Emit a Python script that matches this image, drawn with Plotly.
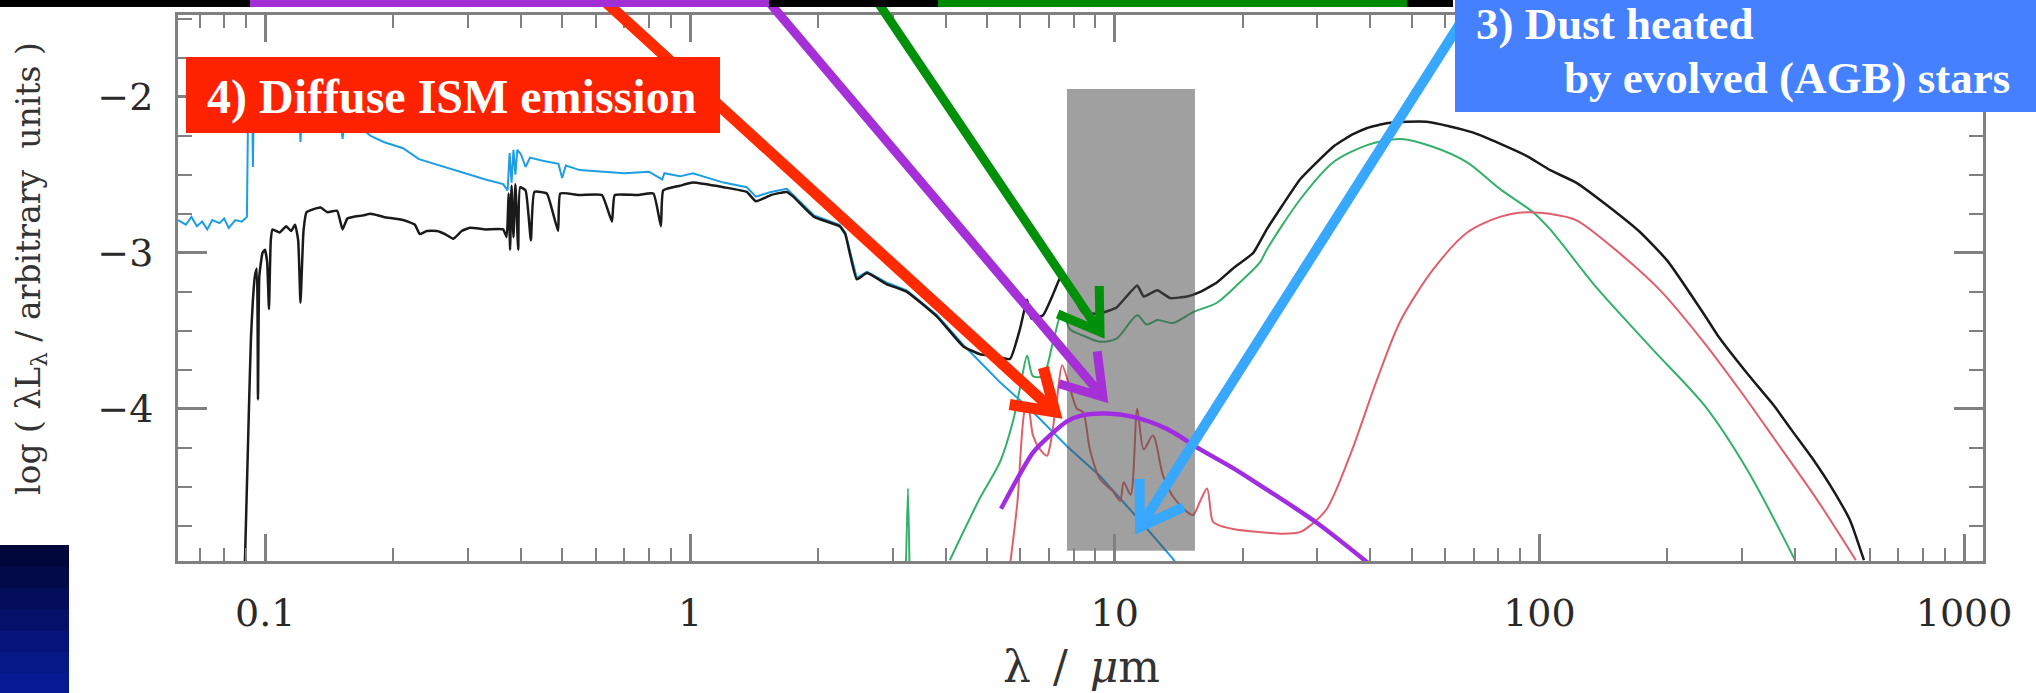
import math
import plotly.graph_objects as go

# ---------------- data ----------------
# total SED (black)
black_x = [0.0895, 0.0915, 0.0925, 0.0935, 0.0945, 0.0955, 0.0961, 0.0968, 0.0985, 0.0998,
           0.101, 0.102, 0.103, 0.104, 0.108, 0.112, 0.115, 0.1175, 0.1195, 0.121, 0.123,
           0.125, 0.130, 0.135, 0.140, 0.1476, 0.152, 0.156, 0.161, 0.170, 0.177, 0.190,
           0.211, 0.225, 0.231, 0.240, 0.2535, 0.265, 0.277, 0.290, 0.303, 0.330, 0.363,
           0.370, 0.374, 0.377, 0.380, 0.384, 0.388, 0.394, 0.398, 0.410, 0.422, 0.430,
           0.460, 0.489, 0.495, 0.550, 0.620, 0.655, 0.665, 0.750, 0.820, 0.854, 0.865,
           0.947, 1.016, 1.20, 1.36, 1.43, 1.55, 1.69, 1.75, 1.96, 2.25, 2.32, 2.47, 2.61,
           2.90, 3.24, 3.82, 4.40, 4.82, 5.17, 5.67, 5.98, 6.22, 6.36, 6.78, 7.20, 7.50,
           7.80, 8.40, 9.20, 10.1, 11.3, 11.7, 12.6, 13.5, 14.8, 15.9, 17.4, 19.0, 21.2,
           22.8, 24.9, 27.3, 29.9, 32.7, 35.8, 39.3, 43.7, 48.8, 54.2, 61.6, 69.9, 80.7,
           93.5, 106, 122, 145, 173, 200, 245, 263, 310, 357, 391, 440, 494, 540, 581]
black_y = [-5.0, -4.0, -3.55, -3.30, -3.15, -3.10, -3.94, -3.15, -3.00, -2.98,
           -3.06, -3.36, -2.92, -2.85, -2.87, -2.83, -2.86, -2.82, -2.92, -3.32, -2.86,
           -2.74, -2.72, -2.71, -2.74, -2.73, -2.85, -2.78, -2.77, -2.76, -2.75, -2.77,
           -2.79, -2.82, -2.88, -2.86, -2.86, -2.88, -2.91, -2.86, -2.84, -2.85, -2.85,
           -2.90, -2.62, -2.98, -2.57, -2.90, -2.56, -2.98, -2.58, -2.60, -2.92, -2.61,
           -2.62, -2.86, -2.62, -2.63, -2.63, -2.80, -2.63, -2.63, -2.62, -2.83, -2.60,
           -2.57, -2.55, -2.58, -2.61, -2.67, -2.63, -2.61, -2.64, -2.77, -2.83, -2.88, -3.17, -3.13,
           -3.20, -3.25, -3.41, -3.60, -3.65, -3.66, -3.68, -3.49, -3.30, -3.42, -3.40, -3.25, -3.14,
           -3.22, -3.38, -3.39, -3.35, -3.21, -3.28, -3.24, -3.29, -3.28, -3.25, -3.19, -3.10, -3.00,
           -2.85, -2.69, -2.53, -2.42, -2.32, -2.25, -2.20, -2.17, -2.16, -2.16, -2.19, -2.23, -2.30,
           -2.38, -2.47, -2.55, -2.70, -2.87, -3.05, -3.40, -3.53, -3.78, -3.98, -4.13, -4.32, -4.53, -4.72, -4.97]

# unextinguished stars (light blue)
blue_x = [0.0623, 0.065, 0.067, 0.069, 0.071, 0.073, 0.075, 0.078, 0.080, 0.082, 0.085, 0.088,
          0.0905, 0.0912, 0.093, 0.0935, 0.094, 0.100, 0.110, 0.120, 0.121, 0.122, 0.135, 0.150,
          0.152, 0.154, 0.165, 0.177, 0.190, 0.211, 0.230, 0.250, 0.277, 0.300, 0.330, 0.363,
          0.372, 0.376, 0.380, 0.384, 0.388, 0.392, 0.400, 0.410, 0.420, 0.450, 0.490, 0.500,
          0.510, 0.550, 0.700, 0.800, 0.860, 0.870, 0.947, 1.016, 1.20, 1.36, 1.43, 1.55, 1.69,
          1.75, 1.96, 2.25, 2.32, 2.47, 2.61, 2.90, 3.24, 3.82, 4.40, 4.82, 5.37, 6.42, 7.72,
          9.23, 11.5, 13.7, 14.5]
blue_y = [-2.79, -2.82, -2.77, -2.83, -2.80, -2.85, -2.79, -2.81, -2.78, -2.84, -2.79, -2.80,
          -2.77, -1.95, -1.92, -2.45, -1.95, -1.98, -2.00, -2.03, -2.29, -2.04, -2.08, -2.12,
          -2.27, -2.13, -2.18, -2.25, -2.29, -2.33, -2.40, -2.43, -2.47, -2.50, -2.53, -2.56,
          -2.60, -2.36, -2.55, -2.34, -2.50, -2.34, -2.37, -2.45, -2.39, -2.41, -2.43, -2.52,
          -2.44, -2.47, -2.49, -2.48, -2.53, -2.49, -2.51, -2.49, -2.55, -2.58, -2.64, -2.61, -2.59,
          -2.63, -2.76, -2.82, -2.87, -3.16, -3.12, -3.19, -3.24, -3.40, -3.59, -3.70, -3.83, -4.02, -4.24,
          -4.43, -4.72, -4.96, -5.05]

# molecular clouds (green)
green_x = [3.22, 3.26, 3.29, None, 4.09, 4.82, 5.37, 5.76, 6.00, 6.22, 6.42, 6.78, 7.16, 7.52,
           7.85, 8.42, 9.23, 10.1, 11.3, 11.9, 12.6, 13.7, 15.3, 17.4, 19.7, 22.0, 22.8, 27.3,
           32.7, 39.3, 47.0, 56.1, 67.6, 80.7, 96.6, 106, 137, 185, 245, 310, 400]
green_y = [-5.1, -4.51, -5.1, None, -4.97, -4.57, -4.34, -4.08, -3.85, -3.66, -3.79, -3.79, -3.57, -3.38,
           -3.49, -3.53, -3.57, -3.55, -3.40, -3.46, -3.43, -3.45, -3.38, -3.32, -3.19, -3.06, -2.98, -2.66,
           -2.42, -2.31, -2.27, -2.32, -2.42, -2.59, -2.74, -2.85, -3.23, -3.62, -3.98, -4.40, -4.97]

# diffuse cirrus (red)
red_x = [5.67, 5.90, 6.15, 6.25, 6.42, 6.67, 6.93, 7.04, 7.31, 7.52, 7.85, 8.15, 8.42, 8.74,
         9.23, 9.91, 10.3, 10.5, 10.9, 11.3, 11.7, 12.3, 13.0, 13.7, 14.8, 15.3, 15.9, 16.5,
         17.0, 17.4, 19.0, 22.0, 24.9, 27.3, 28.8, 31.6, 35.8, 41.5, 47.0, 56.1, 67.6, 80.7,
         93.5, 106, 122, 154, 194, 245, 300, 357, 450, 556]
red_y = [-5.0, -4.60, -4.00, -3.98, -4.17, -4.26, -4.30, -4.24, -3.94, -3.72, -3.87, -4.00, -4.02, -4.26,
         -4.45, -4.53, -4.59, -4.47, -4.55, -4.00, -4.26, -4.17, -4.43, -4.56, -4.66, -4.68, -4.59, -4.51,
         -4.72, -4.74, -4.77, -4.79, -4.80, -4.79, -4.75, -4.64, -4.30, -3.81, -3.44, -3.11, -2.87, -2.77,
         -2.74, -2.75, -2.79, -3.00, -3.25, -3.58, -3.90, -4.19, -4.58, -4.97]

# dust around AGB stars (purple)
purple_x = [5.40, 5.89, 6.42, 7.04, 7.72, 8.42, 9.59, 11.0, 13.3, 15.9, 19.0, 22.0, 29.9, 40.0]
purple_y = [-4.64, -4.45, -4.28, -4.17, -4.08, -4.04, -4.03, -4.05, -4.13, -4.26, -4.38, -4.49, -4.73, -5.0]

# highlighted band
BAND_X = [7.72, 15.45]
BAND_Y = [-4.91, -1.95]

X_TICKS = [0.1, 1, 10, 100, 1000]
X_TICKTEXT = ["0.1", "1", "10", "100", "1000"]
Y_TICKS = [-4, -3, -2]

X_RANGE_LOG = [-1.2056, 3.0445]
Y_RANGE = [-4.975, -1.476]

# ---------------- layout geometry (pixels) ----------------
W, H = 2036, 693
L, R, T, B = 178, 1983, 15, 561


def X(p):
    return (p - L) / (R - L)


def Y(p):
    return (B - p) / (B - T)


def rect(x0, y0, x1, y1, color):
    return dict(type="rect", xref="paper", yref="paper", x0=X(x0), x1=X(x1), y0=Y(y1), y1=Y(y0),
                fillcolor=color, line=dict(width=0), layer="above")


def arrow(x0, y0, xt, yt, color, width, head=46, ang=33):
    dx, dy = x0 - xt, y0 - yt
    n = math.hypot(dx, dy)
    ux, uy = dx / n, dy / n
    arms = []
    for s in (1, -1):
        a = math.radians(ang * s)
        ax = ux * math.cos(a) - uy * math.sin(a)
        ay = ux * math.sin(a) + uy * math.cos(a)
        arms.append((xt + head * ax, yt + head * ay))
    p = (f"M {X(x0)},{Y(y0)} L {X(xt)},{Y(yt)} "
         f"M {X(arms[0][0])},{Y(arms[0][1])} L {X(xt)},{Y(yt)} L {X(arms[1][0])},{Y(arms[1][1])}")
    return dict(type="path", xref="paper", yref="paper", path=p,
                line=dict(color=color, width=width), layer="above")


fig = go.Figure()
fig.add_trace(go.Scatter(x=blue_x, y=blue_y, mode="lines", line=dict(color="#1e9de3", width=2),
                         hoverinfo="skip", showlegend=False))
fig.add_trace(go.Scatter(x=green_x, y=green_y, mode="lines",
                         line=dict(color="#34b06a", width=2, shape="spline", smoothing=0.8),
                         hoverinfo="skip", showlegend=False, connectgaps=False))
fig.add_trace(go.Scatter(x=red_x, y=red_y, mode="lines",
                         line=dict(color="#df5f6c", width=2, shape="spline", smoothing=0.8),
                         hoverinfo="skip", showlegend=False))
fig.add_trace(go.Scatter(x=black_x, y=black_y, mode="lines",
                         line=dict(color="#1a1a1a", width=2.5, shape="spline", smoothing=0.4),
                         hoverinfo="skip", showlegend=False))
fig.add_trace(go.Scatter(x=[BAND_X[0], BAND_X[1], BAND_X[1], BAND_X[0], BAND_X[0]],
                         y=[BAND_Y[0], BAND_Y[0], BAND_Y[1], BAND_Y[1], BAND_Y[0]],
                         mode="lines", fill="toself", fillcolor="rgba(75,75,75,0.53)",
                         line=dict(width=0), hoverinfo="skip", showlegend=False))
fig.add_trace(go.Scatter(x=purple_x, y=purple_y, mode="lines",
                         line=dict(color="#a02ee0", width=4.5, shape="spline", smoothing=0.8),
                         hoverinfo="skip", showlegend=False))

shapes = [
    arrow(598, -5, 1055, 412, "#ff2a00", 11),
    arrow(763, -5, 1103, 397, "#a530d8", 9),
    arrow(873, -5, 1100, 332, "#00900a", 9),
    arrow(1475, 0, 1140, 527, "#38a8ff", 10, head=48),
    rect(186, 57, 720, 133, "#ff2200"),
    rect(1455, 0, 2040, 112, "#4580ff"),
    rect(0, 0, 1453, 7, "#000000"),
    rect(250, 0, 769, 7, "#a22fd6"),
    rect(938, 0, 1407, 7, "#008a00"),
]
# dark navy corner block (approximate gradient with overlapping bands, no seams)
navy = ["#01073a", "#020a4a", "#030d5a", "#04106a", "#05137a", "#061788", "#071a94"]
for i, c in enumerate(navy):
    shapes.append(rect(0, 545 + i * (150 / len(navy)), 69, 700, c))

annotations = [
    dict(xref="paper", yref="paper", x=X(205), y=Y(97), xanchor="left", yanchor="middle",
         text="<b>4) Diffuse ISM emission</b>", showarrow=False,
         font=dict(family="Liberation Serif", size=48, color="white")),
    dict(xref="paper", yref="paper", x=X(1474), y=Y(24), xanchor="left", yanchor="middle",
         text="<b>3) Dust heated</b>", showarrow=False,
         font=dict(family="Liberation Serif", size=45, color="white")),
    dict(xref="paper", yref="paper", x=X(1562), y=Y(78), xanchor="left", yanchor="middle",
         text="<b>by evolved (AGB) stars</b>", showarrow=False,
         font=dict(family="Liberation Serif", size=45, color="white")),
    dict(xref="paper", yref="paper", x=X(30), y=Y(269), xanchor="center", yanchor="middle",
         textangle=-90, text="log ( λL<sub>λ</sub> / arbitrary  units )", showarrow=False,
         font=dict(family="DejaVu Serif", size=33, color="#333333")),
    dict(xref="paper", yref="paper", x=X(1081), y=Y(666), xanchor="center", yanchor="middle",
         text="λ\u2002/\u2002<i>μ</i>m", showarrow=False,
         font=dict(family="DejaVu Serif", size=44, color="#333333")),
]

axis_col = "#808080"
minor_x = [m * 10 ** e for e in range(-2, 3) for m in range(2, 10)]
minor_x = [v for v in minor_x if 0.0623 < v < 1108]

fig.update_layout(
    width=W, height=H,
    margin=dict(l=L, r=W - R, t=T, b=H - B),
    paper_bgcolor="white", plot_bgcolor="white",
    shapes=shapes, annotations=annotations,
    xaxis=dict(type="log", range=X_RANGE_LOG, showgrid=False, zeroline=False,
               showline=True, linecolor=axis_col, linewidth=3, mirror="ticks",
               ticks="inside", ticklen=27, tickwidth=2.5, tickcolor=axis_col,
               tickvals=X_TICKS, ticktext=X_TICKTEXT, ticklabelstandoff=16,
               tickfont=dict(family="DejaVu Serif", size=38, color="#2a2a2a"),
               minor=dict(ticks="inside", ticklen=13, tickwidth=2, tickcolor=axis_col,
                          tickvals=minor_x, showgrid=False)),
    yaxis=dict(range=Y_RANGE, showgrid=False, zeroline=False,
               showline=True, linecolor=axis_col, linewidth=3, mirror="ticks",
               ticks="inside", ticklen=29, tickwidth=2.5, tickcolor=axis_col,
               tickvals=Y_TICKS, ticklabelstandoff=14,
               tickfont=dict(family="DejaVu Serif", size=38, color="#2a2a2a"),
               minor=dict(ticks="inside", ticklen=14, tickwidth=2, tickcolor=axis_col,
                          dtick=0.25, showgrid=False)),
)

fig.write_html("out.html")
